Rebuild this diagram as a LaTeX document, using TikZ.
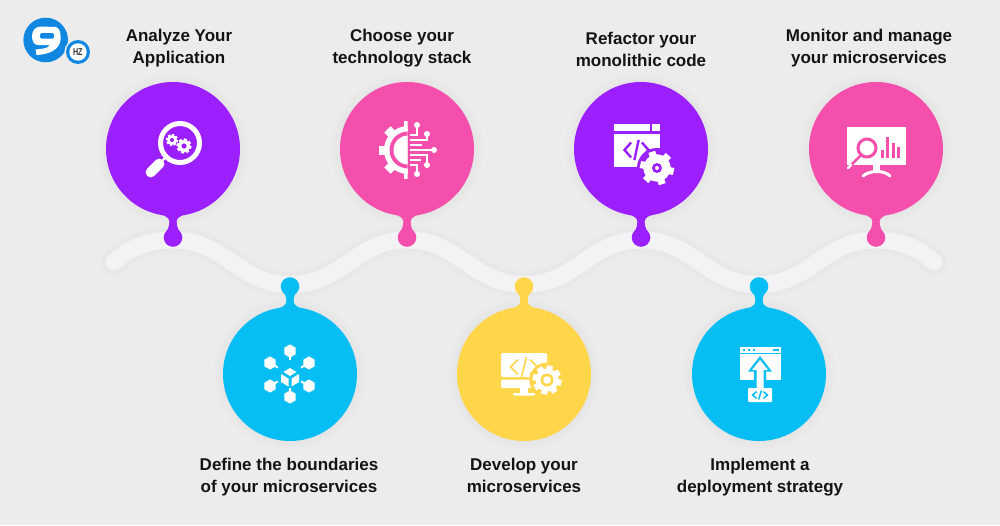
\documentclass[tikz,border=0pt]{standalone}
\usepackage{fontspec}
\setmainfont{Liberation Sans}
\usetikzlibrary{calc}
\definecolor{bgc}{HTML}{ECECEC}
\definecolor{bandc}{HTML}{F3F3F5}
\definecolor{purp}{HTML}{9B1FFF}
\definecolor{pinkc}{HTML}{F44FAC}
\definecolor{bluec}{HTML}{06BEF3}
\definecolor{yelc}{HTML}{FFD54A}
\definecolor{logoc}{HTML}{1088E2}
\tikzset{
 stepdisc/.style={circle,inner sep=0pt,minimum size=134pt,draw=none},
 knobdot/.style={circle,inner sep=0pt,minimum size=18.6pt,draw=none},
 steplabel/.style={align=center,inner sep=0pt,text=black!92,font=\fontsize{17}{22}\selectfont\bfseries},
 wh/.style={fill=white,draw=none},
}
% shadow of a disc
\newcommand{\softdisc}[2]{\foreach \rr in {68,69.5,...,78}{\fill[black,opacity=0.0045] (#1,#2) circle[radius=\rr];}}
% gear: x y R teeth colour
\newcommand{\gearmark}[5]{%
 \fill[#5] (#1,#2) circle[radius=0.8*#3];
 \foreach \i in {1,...,#4}{\draw[#5,line width=#3*0.42pt] (#1,#2) -- ++(\i*360/#4+12:#3);}}
% code sign: x y half-width half-height colour line width
\newcommand{\codesign}[6]{%
 \draw[#5,line width=#6pt,line join=miter] ($(#1,#2)+(-0.45*#3,-#4*0.75)$) -- ($(#1,#2)+(-#3,0)$) -- ($(#1,#2)+(-0.45*#3,#4*0.75)$);
 \draw[#5,line width=#6pt,line join=miter] ($(#1,#2)+(0.45*#3,-#4*0.75)$) -- ($(#1,#2)+(#3,0)$) -- ($(#1,#2)+(0.45*#3,#4*0.75)$);
 \draw[#5,line width=#6pt] ($(#1,#2)+(0.18*#3,-#4)$) -- ($(#1,#2)+(-0.18*#3,#4)$);}
% neck between disc and knob; #1 disc name, #2 +1 downward, -1 upward, #3 colour
\newcommand{\neckof}[3]{%
 \begin{scope}[shift={(#1.center)},yscale=#2]
 \fill[#3] (-13,65) .. controls (-7,67) and (-3.6,69) .. (-3.6,73) .. controls (-3.6,76) and (-4.5,79) .. (-6.5,82.5) -- (6.5,82.5) .. controls (4.5,79) and (3.6,76) .. (3.6,73) .. controls (3.6,69) and (7,67) .. (13,65) -- cycle;
 \end{scope}}
% hexagon with pin: x y angle to the centre
\newcommand{\hexpin}[3]{%
 \fill[white] ($(#1,#2)+(30:6.6)$) -- ($(#1,#2)+(90:6.6)$) -- ($(#1,#2)+(150:6.6)$) -- ($(#1,#2)+(210:6.6)$) -- ($(#1,#2)+(270:6.6)$) -- ($(#1,#2)+(330:6.6)$) -- cycle;
 \draw[white,line width=2pt] (#1,#2) -- ++(#3:9);}
\begin{document}
\begin{tikzpicture}[x=1pt,y=-1pt]
\useasboundingbox (0,0) rectangle (1000,525);
\fill[bgc] (0,0) rectangle (1000,525);
% wave
\def\wave{(114,262) .. controls (132,246) and (150,240) .. (173,240) .. controls (226,240) and (238,284.5) .. (290,284.5) .. controls (343,284.5) and (355,240) .. (407,240) .. controls (460,240) and (472,284.5) .. (524,284.5) .. controls (577,284.5) and (589,240) .. (641,240) .. controls (694,240) and (706,284.5) .. (758,284.5) .. controls (811,284.5) and (823,240) .. (875,240) .. controls (898,240) and (916,246) .. (934,262)}
\foreach \w in {30,27.5,...,19}{\draw[black,opacity=0.005,line width=\w pt,line cap=round] \wave;}
\draw[bandc,line width=17pt,line cap=round] \wave;
% shadows
\softdisc{173}{149}\softdisc{407}{149}\softdisc{641}{149}\softdisc{876}{149}
\softdisc{290}{374}\softdisc{524}{374}\softdisc{759}{374}
% discs
\node[stepdisc,fill=purp] (s1) at (173,149) {};
\node[stepdisc,fill=pinkc] (s3) at (407,149) {};
\node[stepdisc,fill=purp] (s5) at (641,149) {};
\node[stepdisc,fill=pinkc] (s7) at (876,149) {};
\node[stepdisc,fill=bluec] (s2) at (290,374) {};
\node[stepdisc,fill=yelc] (s4) at (524,374) {};
\node[stepdisc,fill=bluec] (s6) at (759,374) {};
% knobs
\node[knobdot,fill=purp] (k1) at (173,237.5) {};
\node[knobdot,fill=pinkc] (k3) at (407,237.5) {};
\node[knobdot,fill=purp] (k5) at (641,237.5) {};
\node[knobdot,fill=pinkc] (k7) at (876,237.5) {};
\node[knobdot,fill=bluec] (k2) at (290,286.5) {};
\node[knobdot,fill=yelc] (k4) at (524,286.5) {};
\node[knobdot,fill=bluec] (k6) at (759,286.5) {};
\neckof{s1}{1}{purp}\neckof{s3}{1}{pinkc}\neckof{s5}{1}{purp}\neckof{s7}{1}{pinkc}
\neckof{s2}{-1}{bluec}\neckof{s4}{-1}{yelc}\neckof{s6}{-1}{bluec}
% labels
\node[steplabel] (t1) at (179,47.6) {\strut Analyze Your\\\strut Application};
\node[steplabel] (t3) at (402,47.6) {\strut Choose your\\\strut technology stack};
\node[steplabel] (t5) at (641,50.6) {\strut Refactor your\\\strut monolithic code};
\node[steplabel] (t7) at (869,47.6) {\strut Monitor and manage\\\strut your microservices};
\node[steplabel] (t2) at (289,476.6) {\strut Define the boundaries\\\strut of your microservices};
\node[steplabel] (t4) at (524,476.6) {\strut Develop your\\\strut microservices};
\node[steplabel] (t6) at (760,476.6) {\strut Implement a\\\strut deployment strategy};
% logo
\fill[logoc] (45.7,40) circle[radius=22.3];
\fill[white] (32,36) .. controls (32,30) and (36,26.5) .. (41,26.5) -- (56,27) .. controls (60,28.5) and (61,33) .. (60.5,40) .. controls (59.5,49) and (50,54.5) .. (36.5,55) -- (35.5,49.5) .. controls (42,49) and (48,48.5) .. (50,45) -- (38,45) .. controls (34,45) and (32,41) .. (32,36) -- cycle;
\fill[logoc,rounded corners=1.5pt] (40,33) rectangle (54,38.5);
\fill[bgc] (78,52) circle[radius=13.5];
\fill[logoc] (78,52) circle[radius=12];
\fill[white] (78,52) circle[radius=8.7];
\node[inner sep=0pt,text=black!80,font=\fontsize{10}{10}\selectfont\bfseries,xscale=0.72] (logohz) at (77.8,52.3) {HZ};
% icon 1: magnifier with gears
\fill[white,even odd rule] (180,143) circle[radius=22] (180,143) circle[radius=17];
\fill[white,rotate around={45:(155,168)},rounded corners=4.5pt] (144,163) rectangle (166,173);
\draw[white,line width=2pt] (165,158) -- (162,161);
\gearmark{172}{140}{6}{8}{white}
\fill[purp] (172,140) circle[radius=2];
\gearmark{184}{146}{7.5}{8}{white}
\fill[purp] (184,146) circle[radius=2.6];
% icon 2: half gear and circuit
\begin{scope}
 \clip (370,115) rectangle (407.5,185);
 \fill[white] (408,150) circle[radius=24];
 \foreach \ta in {90,135,...,270}{\draw[white,line width=9pt] (408,150) -- ++(\ta:29);}
 \fill[pinkc] (408,150) circle[radius=18.5];
 \fill[white] (408,150) circle[radius=14.5];
\end{scope}
\begin{scope}[white,line width=2pt]
 \draw (410,135) -- (417,135) -- (417,125);
 \draw (410,140) -- (427,140) -- (427,134);
 \draw (410,145) -- (422,145);
 \draw (410,150) -- (434,150);
 \draw (410,155) -- (427,155) -- (427,165);
 \draw (410,160) -- (421,160);
 \draw (410,165) -- (417,165) -- (417,174);
 \fill (417,125) circle[radius=3];
 \fill (427,134) circle[radius=3];
 \fill (434,150) circle[radius=3];
 \fill (427,165) circle[radius=3];
 \fill (417,174) circle[radius=3];
\end{scope}
% icon 3: window with code and gear
\fill[wh] (614,124) rectangle (649.5,131);
\fill[wh] (652,124) rectangle (660,131);
\fill[wh] (614,134) rectangle (660,167);
\fill[purp] (657,168) circle[radius=20];
\gearmark{657}{168}{17}{6}{white}
\fill[purp] (657,168) circle[radius=5];
\fill[white] (657,168) circle[radius=2];
\codesign{636.5}{150}{12}{10}{purp}{2.4}
% icon 4: monitor with magnifier and chart
\fill[wh] (847,127) rectangle (906,165);
\draw[pinkc,line width=3pt,fill=white] (867,148) circle[radius=9];
\draw[pinkc,line width=2.5pt] (861,155) -- (851,165);
\draw[white,line width=2.5pt,line cap=round] (851,165) -- (848,168);
\foreach \bx/\by in {882/150,887/137,893/143,898/147}{\fill[pinkc] (\bx-1.5,\by) rectangle (\bx+1.5,158);}
\fill[wh] (873,165) rectangle (880,171);
\draw[white,line width=3pt,line cap=round] (863,176) .. controls (870,170) and (884,170) .. (890,176);
% icon 5: cube and hexagons
\hexpin{290}{351}{90}
\hexpin{309}{363}{150}
\hexpin{309}{386}{210}
\hexpin{290}{397}{270}
\hexpin{270}{386}{330}
\hexpin{270}{363}{30}
\fill[white] (290,368) -- (296.5,372) -- (290,376) -- (283.5,372) -- cycle;
\fill[white] (281,374) -- (288.5,378.5) -- (288.5,386.5) -- (281,382) -- cycle;
\fill[white] (299,374) -- (291.5,378.5) -- (291.5,386.5) -- (299,382) -- cycle;
% icon 6: monitor with code and gear
\fill[white,rounded corners=1.5pt] (501,353) rectangle (547,377);
\fill[white,rounded corners=1.5pt] (501,379.5) rectangle (547,388);
\fill[white] (520,388) rectangle (528,393);
\fill[white,rounded corners=1pt] (513,393) rectangle (535,395.5);
\fill[yelc] (547,380) circle[radius=17.5];
\gearmark{547}{380}{14.5}{8}{white}
\fill[yelc] (547,380) circle[radius=6.5];
\fill[white] (547,380) circle[radius=3.8];
\codesign{524}{367}{13.5}{10}{yelc}{1.6}
% icon 7: window, arrow, code box
\fill[wh] (740,347) rectangle (781,352.5);
\fill[wh] (740,354) rectangle (781,380);
\foreach \dx in {743,748,753}{\fill[bluec] (\dx,348.7) rectangle (\dx+2.4,351);}
\fill[bluec] (773,348.7) rectangle (779,351);
\fill[bluec] (760,356) -- (772,371.5) -- (766,371.5) -- (766,388) -- (754,388) -- (754,371.5) -- (748,371.5) -- cycle;
\fill[white] (760,360) -- (768,370) -- (763.5,370) -- (763.5,388) -- (756.5,388) -- (756.5,370) -- (752,370) -- cycle;
\fill[white,rounded corners=1pt] (748,388) rectangle (772,402);
\codesign{760}{395}{7.5}{4.5}{bluec}{1.5}
\end{tikzpicture}
\end{document}
